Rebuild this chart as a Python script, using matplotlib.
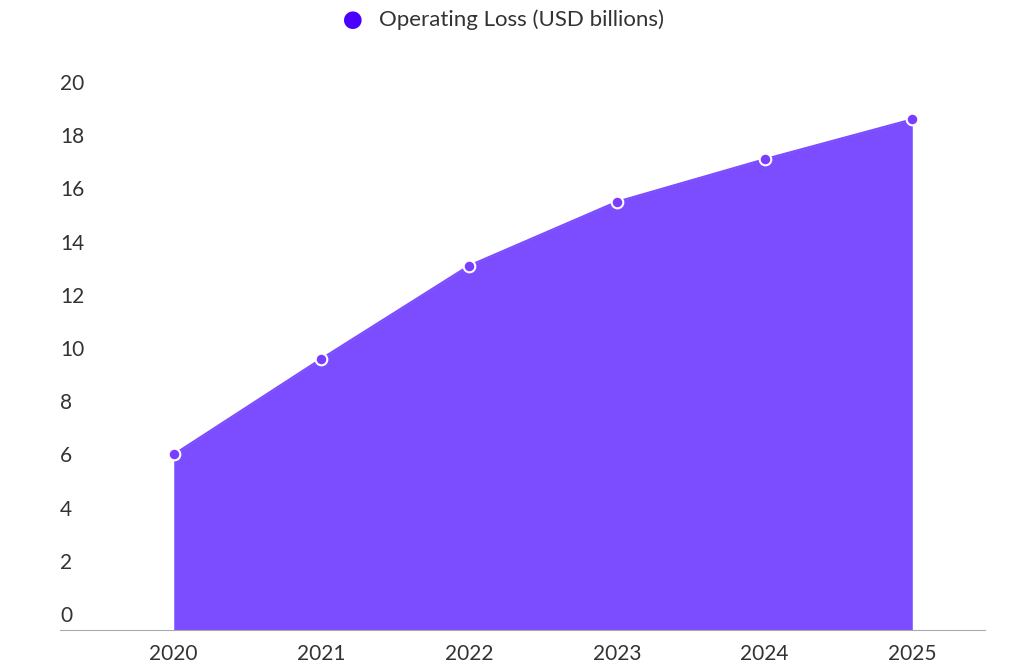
import matplotlib
matplotlib.use("Agg")
import matplotlib.pyplot as plt

years = [2020, 2021, 2022, 2023, 2024, 2025]
loss = [6.6, 10.2, 13.7, 16.1, 17.7, 19.2]
yticks = [0, 2, 4, 6, 8, 10, 12, 14, 16, 18, 20]

plt.rcParams['font.family'] = ['Lato', 'DejaVu Sans']
fig = plt.figure(figsize=(10.24, 6.7), dpi=100)
ax = fig.add_axes([0.0586, 0.0597, 0.903, 0.794])
ax.fill_between(years, loss, 0, color='#7c4dff', linewidth=0)
ax.plot(years, loss, color='#7c4dff', lw=1.5)
ax.scatter(years, loss, s=70, color='#7a3dff', edgecolor='white', linewidth=1.5, zorder=5)
ax.set_xlim(2019.23, 2025.49)
ax.set_ylim(0, 20)
for s in ['top', 'right', 'left']:
    ax.spines[s].set_visible(False)
ax.spines['bottom'].set_color('#aaaaaa')
ax.set_yticks([])
for t in yticks:
    ax.text(2019.23, t + 0.15, str(t), fontsize=15, color='#333333', va='bottom', ha='left')
ax.set_xticks(years)
ax.set_xticklabels([str(y) for y in years], fontsize=15, color='#333333')
ax.tick_params(axis='x', length=0, pad=10)
fig.text(0.345, 0.97, '\u25CF', color='#4a00ff', fontsize=26, va='center', ha='center')
fig.text(0.370, 0.97, 'Operating Loss (USD billions)', color='#333333', fontsize=16, va='center', ha='left')
fig.savefig('out.png', dpi=100, facecolor='white')
